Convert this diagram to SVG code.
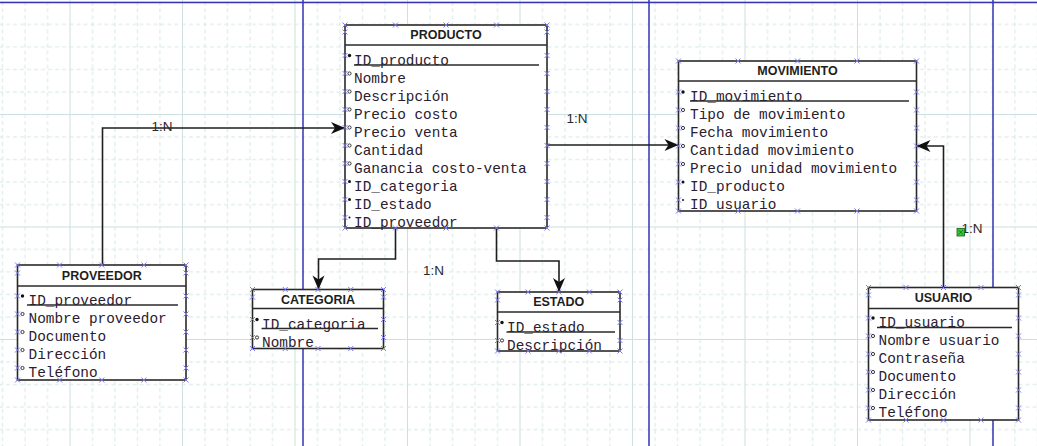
<svg xmlns="http://www.w3.org/2000/svg" xmlns:xlink="http://www.w3.org/1999/xlink" width="1037" height="446" viewBox="0 0 1037 446">
<style>
.tb{fill:#fff;stroke:#2a2a2a;stroke-width:1.6}
.sep{stroke:#2a2a2a;stroke-width:1.4;fill:none}
.hd{font-family:"Liberation Sans",Arial,sans-serif;font-weight:bold;font-size:12.5px;fill:#1e1e1e;text-anchor:middle}
.f{font-family:"Liberation Mono","Courier New",monospace;font-size:14.4px;fill:#2a2030}
.pk{stroke:#2a2a2a;stroke-width:1.3;fill:none}
.k{fill:#111}
.ks{fill:#111}
.o{fill:#fff;stroke:#222;stroke-width:0.9}
.cp{stroke:#7a7aee;stroke-width:1;fill:none}
.cn{fill:none;stroke:#1e1e1e;stroke-width:1.6;marker-end:url(#ah)}
.lb{font-family:"Liberation Sans",Arial,sans-serif;font-size:13.5px;fill:#2a2a2a}
.pg{stroke:#3434b4;stroke-width:1.5;fill:none}
</style>
<defs>
  <pattern id="grid" patternUnits="userSpaceOnUse" x="69.5" y="114" width="112.5" height="112.5">
    <path d="M0.5 0V112.5M0 0.5H112.5" stroke="#cddfdf" stroke-width="1" fill="none"/>
    <path d="M23 0V112.5M45.5 0V112.5M68 0V112.5M90.5 0V112.5M0 23H112.5M0 45.5H112.5M0 68H112.5M0 90.5H112.5" stroke="#d6e6e6" stroke-width="1" stroke-dasharray="4 3" fill="none"/>
  </pattern>
  <marker id="ah" markerUnits="userSpaceOnUse" markerWidth="16" markerHeight="14" refX="14" refY="6" orient="auto" overflow="visible">
    <path d="M14 6L0 0L4 6L0 12Z" fill="#111"/>
  </marker>
  <!-- connection point cross -->
  <path id="x" class="cp" d="M-2.5-2.5l5 5m0-5l-5 5"/>
</defs>

<!-- drawing surface -->
<rect width="1037" height="446" fill="#fff"/>
<rect width="1037" height="446" fill="url(#grid)"/>

<!-- page boundaries -->
<g id="pages">
  <path class="pg" d="M0 2.5H1037M303 0V446M649 0V446M993 0V446"/>
</g>

<!-- relationships -->
<g id="connectors">
  <path class="cn" d="M102.5 265V128H345"/>
  <path class="cn" d="M395.5 228V259H318.5V289.5"/>
  <path class="cn" d="M496.5 228V261H559V292"/>
  <path class="cn" d="M547 145H678.5"/>
  <path class="cn" d="M943.5 287.5V146H916.5"/>
  <text class="lb" x="151.5" y="130.5">1:N</text>
  <text class="lb" x="423" y="274.5">1:N</text>
  <text class="lb" x="566.5" y="122.5">1:N</text>
  <text class="lb" x="961.5" y="232.5">1:N</text>
  <rect x="957" y="228.5" width="7.5" height="7.5" fill="#2bd02b" stroke="#1a5a1a" stroke-width="0.8"/>
  <path d="M958.5 230l4.5 4.5m0-4.5l-4.5 4.5" stroke="#1a5a1a" stroke-width="0.7"/>
</g>

<!-- PRODUCTO -->
<g id="producto">
  <rect class="tb" x="345" y="25" width="202" height="203"/>
  <path class="sep" d="M345 45H547"/>
  <text class="hd" x="446" y="39">PRODUCTO</text>
  <text class="f" x="354" y="64.5">ID_producto</text>
  <text class="f" x="354" y="82.5">Nombre</text>
  <text class="f" x="354" y="100.5">Descripción</text>
  <text class="f" x="354" y="118.5">Precio costo</text>
  <text class="f" x="354" y="136.5">Precio venta</text>
  <text class="f" x="354" y="154.5">Cantidad</text>
  <text class="f" x="354" y="172.5">Ganancia costo-venta</text>
  <text class="f" x="354" y="190.5">ID_categoria</text>
  <text class="f" x="354" y="208.5">ID_estado</text>
  <text class="f" x="354" y="226.5">ID_proveedor</text>
  <path class="pk" d="M354 65H539"/>
  <circle class="k" cx="349.5" cy="55.5" r="1.7"/>
  <circle class="o" cx="349.5" cy="73.5" r="1.6"/>
  <circle class="o" cx="349.5" cy="91.5" r="1.6"/>
  <circle class="o" cx="349.5" cy="109.5" r="1.6"/>
  <circle class="o" cx="349.5" cy="127.5" r="1.6"/>
  <circle class="o" cx="349.5" cy="145.5" r="1.6"/>
  <circle class="o" cx="349.5" cy="163.5" r="1.6"/>
  <circle class="k" cx="349.5" cy="181.5" r="1.5"/>
  <circle class="k" cx="349.5" cy="199.5" r="1.5"/>
  <circle class="ks" cx="349.5" cy="217.5" r="1"/>
  <use href="#x" x="345" y="25"/><use href="#x" x="395.5" y="25"/><use href="#x" x="446" y="25"/><use href="#x" x="496.5" y="25"/><use href="#x" x="547" y="25"/>
  <use href="#x" x="345" y="228"/><use href="#x" x="395.5" y="228"/><use href="#x" x="446" y="228"/><use href="#x" x="496.5" y="228"/><use href="#x" x="547" y="228"/>
  <use href="#x" x="345" y="32"/><use href="#x" x="345" y="55.5"/><use href="#x" x="345" y="73.5"/><use href="#x" x="345" y="91.5"/><use href="#x" x="345" y="109.5"/><use href="#x" x="345" y="127.5"/><use href="#x" x="345" y="145.5"/><use href="#x" x="345" y="163.5"/><use href="#x" x="345" y="181.5"/><use href="#x" x="345" y="199.5"/><use href="#x" x="345" y="217.5"/>
  <use href="#x" x="547" y="32"/><use href="#x" x="547" y="55.5"/><use href="#x" x="547" y="73.5"/><use href="#x" x="547" y="91.5"/><use href="#x" x="547" y="109.5"/><use href="#x" x="547" y="127.5"/><use href="#x" x="547" y="145.5"/><use href="#x" x="547" y="163.5"/><use href="#x" x="547" y="181.5"/><use href="#x" x="547" y="199.5"/><use href="#x" x="547" y="217.5"/>
</g>

<!-- MOVIMIENTO -->
<g id="movimiento">
  <rect class="tb" x="678.5" y="61" width="238" height="150"/>
  <path class="sep" d="M678.5 81H916.5"/>
  <text class="hd" x="797.5" y="75">MOVIMIENTO</text>
  <text class="f" x="690" y="101">ID_movimiento</text>
  <text class="f" x="690" y="119">Tipo de movimiento</text>
  <text class="f" x="690" y="137">Fecha movimiento</text>
  <text class="f" x="690" y="155">Cantidad movimiento</text>
  <text class="f" x="690" y="173">Precio unidad movimiento</text>
  <text class="f" x="690" y="191">ID_producto</text>
  <text class="f" x="690" y="209">ID usuario</text>
  <path class="pk" d="M690 101H909"/>
  <circle class="k" cx="683" cy="92" r="1.7"/>
  <circle class="o" cx="683" cy="110" r="1.6"/>
  <circle class="o" cx="683" cy="128" r="1.6"/>
  <circle class="o" cx="683" cy="146" r="1.6"/>
  <circle class="o" cx="683" cy="164" r="1.6"/>
  <circle class="k" cx="683" cy="182" r="1.5"/>
  <circle class="ks" cx="683" cy="200" r="1"/>
  <use href="#x" x="678.5" y="61"/><use href="#x" x="738" y="61"/><use href="#x" x="797.5" y="61"/><use href="#x" x="857" y="61"/><use href="#x" x="916.5" y="61"/>
  <use href="#x" x="678.5" y="211"/><use href="#x" x="738" y="211"/><use href="#x" x="797.5" y="211"/><use href="#x" x="857" y="211"/><use href="#x" x="916.5" y="211"/>
  <use href="#x" x="678.5" y="92"/><use href="#x" x="678.5" y="110"/><use href="#x" x="678.5" y="128"/><use href="#x" x="678.5" y="146"/><use href="#x" x="678.5" y="164"/><use href="#x" x="678.5" y="182"/><use href="#x" x="678.5" y="200"/>
  <use href="#x" x="916.5" y="92"/><use href="#x" x="916.5" y="110"/><use href="#x" x="916.5" y="128"/><use href="#x" x="916.5" y="146"/><use href="#x" x="916.5" y="164"/><use href="#x" x="916.5" y="182"/><use href="#x" x="916.5" y="200"/>
</g>

<!-- PROVEEDOR -->
<g id="proveedor">
  <rect class="tb" x="17.5" y="265" width="168.5" height="115"/>
  <path class="sep" d="M17.5 286H186"/>
  <text class="hd" x="101.75" y="279.5">PROVEEDOR</text>
  <text class="f" x="28.5" y="305">ID_proveedor</text>
  <text class="f" x="28.5" y="323">Nombre proveedor</text>
  <text class="f" x="28.5" y="341">Documento</text>
  <text class="f" x="28.5" y="359">Dirección</text>
  <text class="f" x="28.5" y="377">Teléfono</text>
  <path class="pk" d="M27 305H178"/>
  <circle class="k" cx="22.5" cy="296" r="1.7"/>
  <circle class="o" cx="22.5" cy="314" r="1.6"/>
  <circle class="o" cx="22.5" cy="332" r="1.6"/>
  <circle class="o" cx="22.5" cy="350" r="1.6"/>
  <circle class="o" cx="22.5" cy="368" r="1.6"/>
  <use href="#x" x="17.5" y="265"/><use href="#x" x="59.6" y="265"/><use href="#x" x="101.75" y="265"/><use href="#x" x="143.9" y="265"/><use href="#x" x="186" y="265"/>
  <use href="#x" x="17.5" y="380"/><use href="#x" x="59.6" y="380"/><use href="#x" x="101.75" y="380"/><use href="#x" x="143.9" y="380"/><use href="#x" x="186" y="380"/>
  <use href="#x" x="17.5" y="273"/><use href="#x" x="17.5" y="296"/><use href="#x" x="17.5" y="314"/><use href="#x" x="17.5" y="332"/><use href="#x" x="17.5" y="350"/><use href="#x" x="17.5" y="368"/>
  <use href="#x" x="186" y="273"/><use href="#x" x="186" y="296"/><use href="#x" x="186" y="314"/><use href="#x" x="186" y="332"/><use href="#x" x="186" y="350"/><use href="#x" x="186" y="368"/>
</g>

<!-- CATEGORIA -->
<g id="categoria">
  <rect class="tb" x="252.5" y="289.5" width="131" height="59"/>
  <path class="sep" d="M252.5 308.5H383.5"/>
  <text class="hd" x="318" y="303.5">CATEGORIA</text>
  <text class="f" x="262" y="328.5">ID_categoria</text>
  <text class="f" x="262" y="346.5">Nombre</text>
  <path class="pk" d="M261.5 328.5H378"/>
  <circle class="k" cx="257" cy="319.5" r="1.7"/>
  <circle class="o" cx="257" cy="337.5" r="1.6"/>
  <use href="#x" x="252.5" y="289.5"/><use href="#x" x="285.25" y="289.5"/><use href="#x" x="318" y="289.5"/><use href="#x" x="350.75" y="289.5"/><use href="#x" x="383.5" y="289.5"/>
  <use href="#x" x="252.5" y="348.5"/><use href="#x" x="285.25" y="348.5"/><use href="#x" x="318" y="348.5"/><use href="#x" x="350.75" y="348.5"/><use href="#x" x="383.5" y="348.5"/>
  <use href="#x" x="252.5" y="297"/><use href="#x" x="252.5" y="319.5"/><use href="#x" x="252.5" y="337.5"/>
  <use href="#x" x="383.5" y="297"/><use href="#x" x="383.5" y="319.5"/><use href="#x" x="383.5" y="337.5"/>
</g>

<!-- ESTADO -->
<g id="estado">
  <rect class="tb" x="497.5" y="292" width="122.5" height="59"/>
  <path class="sep" d="M497.5 312H620"/>
  <text class="hd" x="558.75" y="306">ESTADO</text>
  <text class="f" x="507" y="331.5">ID_estado</text>
  <text class="f" x="507" y="349.5">Descripción</text>
  <path class="pk" d="M506.5 332H615"/>
  <circle class="k" cx="502" cy="322.5" r="1.7"/>
  <circle class="o" cx="502" cy="340.5" r="1.6"/>
  <use href="#x" x="497.5" y="292"/><use href="#x" x="528.1" y="292"/><use href="#x" x="558.75" y="292"/><use href="#x" x="589.4" y="292"/><use href="#x" x="620" y="292"/>
  <use href="#x" x="497.5" y="351"/><use href="#x" x="528.1" y="351"/><use href="#x" x="558.75" y="351"/><use href="#x" x="589.4" y="351"/><use href="#x" x="620" y="351"/>
  <use href="#x" x="497.5" y="300"/><use href="#x" x="497.5" y="322.5"/><use href="#x" x="497.5" y="340.5"/>
  <use href="#x" x="620" y="300"/><use href="#x" x="620" y="322.5"/><use href="#x" x="620" y="340.5"/>
</g>

<!-- USUARIO -->
<g id="usuario">
  <rect class="tb" x="868.5" y="287.5" width="150" height="132.5"/>
  <path class="sep" d="M868.5 308.5H1018.5"/>
  <text class="hd" x="943.5" y="302">USUARIO</text>
  <text class="f" x="878.5" y="327">ID_usuario</text>
  <text class="f" x="878.5" y="345">Nombre usuario</text>
  <text class="f" x="878.5" y="363">Contraseña</text>
  <text class="f" x="878.5" y="381">Documento</text>
  <text class="f" x="878.5" y="399">Dirección</text>
  <text class="f" x="878.5" y="417">Teléfono</text>
  <path class="pk" d="M877 327.5H1012"/>
  <circle class="k" cx="873" cy="318" r="1.7"/>
  <circle class="o" cx="873" cy="336" r="1.6"/>
  <circle class="o" cx="873" cy="354" r="1.6"/>
  <circle class="o" cx="873" cy="372" r="1.6"/>
  <circle class="o" cx="873" cy="390" r="1.6"/>
  <circle class="o" cx="873" cy="408" r="1.6"/>
  <use href="#x" x="868.5" y="287.5"/><use href="#x" x="906" y="287.5"/><use href="#x" x="943.5" y="287.5"/><use href="#x" x="981" y="287.5"/><use href="#x" x="1018.5" y="287.5"/>
  <use href="#x" x="868.5" y="420"/><use href="#x" x="906" y="420"/><use href="#x" x="943.5" y="420"/><use href="#x" x="981" y="420"/><use href="#x" x="1018.5" y="420"/>
  <use href="#x" x="868.5" y="295"/><use href="#x" x="868.5" y="318"/><use href="#x" x="868.5" y="336"/><use href="#x" x="868.5" y="354"/><use href="#x" x="868.5" y="372"/><use href="#x" x="868.5" y="390"/><use href="#x" x="868.5" y="408"/>
  <use href="#x" x="1018.5" y="295"/><use href="#x" x="1018.5" y="318"/><use href="#x" x="1018.5" y="336"/><use href="#x" x="1018.5" y="354"/><use href="#x" x="1018.5" y="372"/><use href="#x" x="1018.5" y="390"/><use href="#x" x="1018.5" y="408"/>
</g>
</svg>
